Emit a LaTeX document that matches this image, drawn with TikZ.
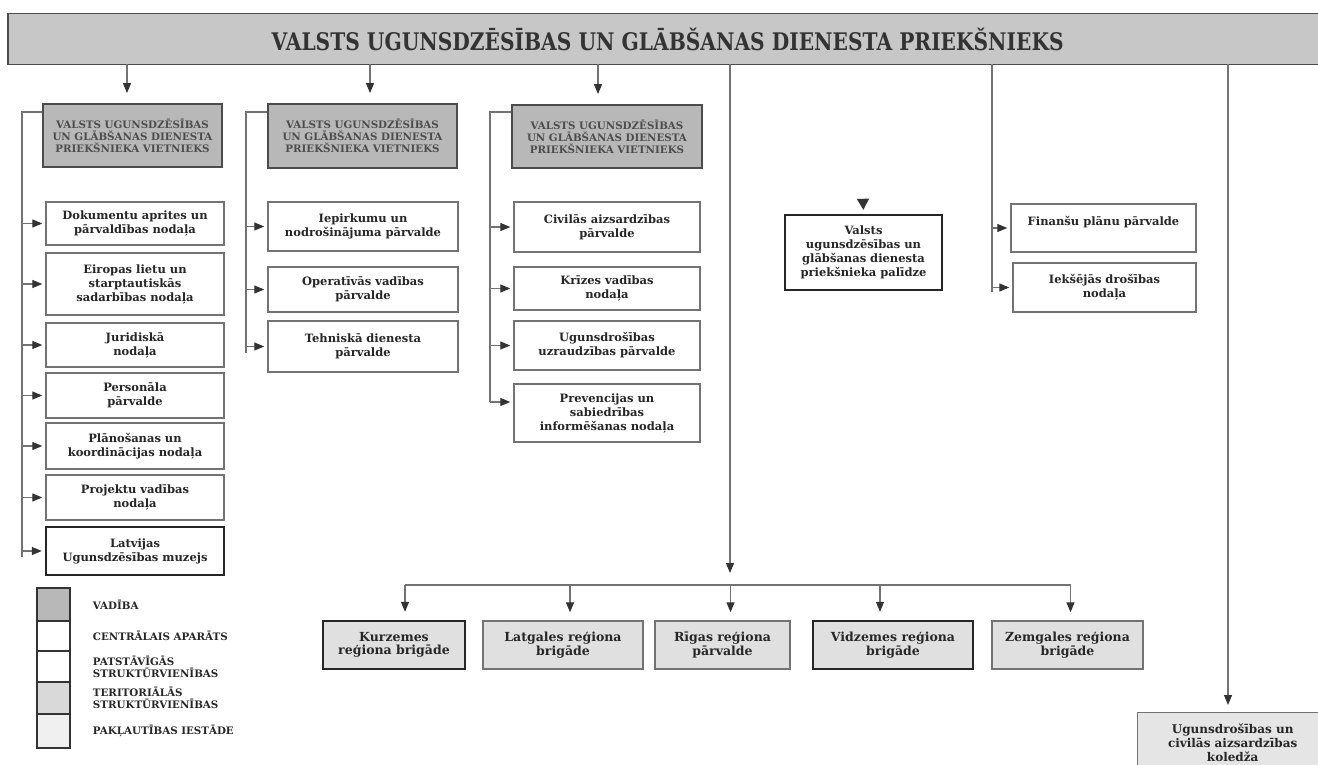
\documentclass[tikz,border=0pt]{standalone}
\usepackage{fontspec}
\setmainfont{DejaVu Serif}
\usetikzlibrary{arrows.meta,positioning}

\begin{document}
\begin{tikzpicture}[->,>={Triangle[length=10pt,width=8pt,color=black!80]},shorten >=3pt,
        x=1pt,y=-1pt,line width=1.2pt,color=black!55,
        unit/.style={rectangle,draw=black!55,line width=1.4pt,fill=white,align=center,
          font=\bfseries\fontsize{11.5}{14}\selectfont,text=black!85,inner sep=2pt},
        heavy/.style={unit,draw=black!85,line width=2.4pt},
        deputy/.style={unit,fill=black!28,draw=black!70,line width=1.8pt,
          font=\bfseries\fontsize{10.3}{12}\selectfont,text=black!70},
        brigade/.style={unit,fill=black!12,font=\bfseries\fontsize{12.5}{13.5}\selectfont},
        bus/.style={-,shorten >=0pt},
        key/.style={rectangle,draw=black!80,line width=2pt,minimum width=33pt},
        keytext/.style={anchor=west,align=left,font=\bfseries\fontsize{10.3}{12}\selectfont,text=black!85}]

  \useasboundingbox (0,0) rectangle (1318,765);

  % head of the service
  \node[draw=black!70,line width=1.5pt,fill=black!22,minimum width=1320pt,minimum height=51pt,
        anchor=north west,inner sep=0pt,text=black!80] (prieksn) at (7,13)
        {\scalebox{1}[1.2]{\bfseries\fontsize{20.2}{20}\selectfont VALSTS UGUNSDZĒSĪBAS UN GLĀBŠANAS DIENESTA PRIEKŠNIEKS}};

  % deputies
  \node[deputy,minimum width=179pt,minimum height=63pt] (viet1) at (132.5,135.5)
        {VALSTS UGUNSDZĒSĪBAS\\UN GLĀBŠANAS DIENESTA\\PRIEKŠNIEKA VIETNIEKS};
  \node[deputy,minimum width=189pt,minimum height=64pt] (viet2) at (362.5,136)
        {VALSTS UGUNSDZĒSĪBAS\\UN GLĀBŠANAS DIENESTA\\PRIEKŠNIEKA VIETNIEKS};
  \node[deputy,minimum width=190pt,minimum height=63pt] (viet3) at (607,136.5)
        {VALSTS UGUNSDZĒSĪBAS\\UN GLĀBŠANAS DIENESTA\\PRIEKŠNIEKA VIETNIEKS};

  % first deputy
  \node[unit,minimum width=178pt,minimum height=43pt] (dok) at (135,223.5) {Dokumentu aprites un\\pārvaldības nodaļa};
  \node[unit,minimum width=178pt,minimum height=62pt] (eir) at (135,284) {Eiropas lietu un\\starptautiskās\\sadarbības nodaļa};
  \node[unit,minimum width=178pt,minimum height=44pt] (jur) at (135,345) {Juridiskā\\nodaļa};
  \node[unit,minimum width=178pt,minimum height=45pt] (pers) at (135,395.5) {Personāla\\pārvalde};
  \node[unit,minimum width=178pt,minimum height=46pt] (plan) at (135,446) {Plānošanas un\\koordinācijas nodaļa};
  \node[unit,minimum width=178pt,minimum height=45pt] (proj) at (135,497.5) {Projektu vadības\\nodaļa};
  \node[heavy,minimum width=178pt,minimum height=48pt] (muz) at (135,551) {Latvijas\\Ugunsdzēsības muzejs};

  % second deputy
  \node[unit,minimum width=190pt,minimum height=49pt] (iep) at (363,226.5) {Iepirkumu un\\nodrošinājuma pārvalde};
  \node[unit,minimum width=190pt,minimum height=45pt] (oper) at (363,289.5) {Operatīvās vadības\\pārvalde};
  \node[unit,minimum width=190pt,minimum height=51pt] (tehn) at (363,346.5) {Tehniskā dienesta\\pārvalde};

  % third deputy
  \node[unit,minimum width=186pt,minimum height=50pt] (civ) at (607,227) {Civilās aizsardzības\\pārvalde};
  \node[unit,minimum width=186pt,minimum height=43pt] (kriz) at (607,288.5) {Krīzes vadības\\nodaļa};
  \node[unit,minimum width=186pt,minimum height=49pt] (uzr) at (607,345.5) {Ugunsdrošības\\uzraudzības pārvalde};
  \node[unit,minimum width=186pt,minimum height=58pt] (prev) at (607,413) {Prevencijas un\\sabiedrības\\informēšanas nodaļa};

  % assistant and right column
  \node[heavy,minimum width=157pt,minimum height=75pt] (pal) at (863.5,252.5)
        {Valsts\\ugunsdzēsības un\\glābšanas dienesta\\priekšnieka palīdze};
  \node[unit,minimum width=185pt,minimum height=48pt] (fin) at (1103.5,228) {Finanšu plānu pārvalde\\\mbox{}};
  \node[unit,minimum width=183pt,minimum height=49pt] (iek) at (1104.5,287.5) {Iekšējās drošības\\nodaļa};

  % regional brigades
  \node[brigade,heavy,fill=black!12,font=\bfseries\fontsize{12.5}{13.5}\selectfont,
        minimum width=142pt,minimum height=48pt] (kurz) at (394,645) {Kurzemes\\reģiona brigāde};
  \node[brigade,minimum width=160pt,minimum height=48pt] (latg) at (563,645) {Latgales reģiona\\brigāde};
  \node[brigade,minimum width=135pt,minimum height=48pt] (riga) at (722.5,645) {Rīgas reģiona\\pārvalde};
  \node[brigade,heavy,fill=black!12,font=\bfseries\fontsize{12.5}{13.5}\selectfont,
        minimum width=160pt,minimum height=48pt] (vidz) at (893,645) {Vidzemes reģiona\\brigāde};
  \node[brigade,minimum width=151pt,minimum height=48pt] (zemg) at (1067.5,645) {Zemgales reģiona\\brigāde};

  % college
  \node[brigade,fill=black!10,font=\bfseries\fontsize{12}{14}\selectfont,
        minimum width=190pt,minimum height=60pt,anchor=north west] (kol) at (1137,712)
        {Ugunsdrošības un\\civilās aizsardzības\\koledža};

  % legend
  \node[key,fill=black!28,minimum height=33pt] (k1) at (53.5,604.5) {};
  \node[key,fill=white,minimum height=30pt] (k2) at (53.5,636) {};
  \node[key,fill=white,minimum height=31pt] (k3) at (53.5,666.5) {};
  \node[key,fill=black!15,minimum height=32pt] (k4) at (53.5,698) {};
  \node[key,fill=black!6,minimum height=34pt] (k5) at (53.5,731) {};
  \node[keytext,right=18pt of k1] (l1) {VADĪBA};
  \node[keytext,right=18pt of k2] (l2) {CENTRĀLAIS APARĀTS};
  \node[keytext,right=18pt of k3] (l3) {PATSTĀVĪGĀS\\STRUKTŪRVIENĪBAS};
  \node[keytext,right=18pt of k4] (l4) {TERITORIĀLĀS\\STRUKTŪRVIENĪBAS};
  \node[keytext,right=18pt of k5] (l5) {PAKĻAUTĪBAS IESTĀDE};

  % stems from the head
  \coordinate (s1) at (127,64);
  \coordinate (s2) at (370,64);
  \coordinate (s3) at (598,64);
  \coordinate (s4) at (730,64);
  \coordinate (s5) at (992,64);
  \coordinate (s6) at (1228,64);
  \draw[shorten >=10pt] (s1) -- (s1 |- viet1.north);
  \draw[shorten >=10pt] (s2) -- (s2 |- viet2.north);
  \draw[shorten >=10pt] (s3) -- (s3 |- viet3.north);

  % buses of the deputies
  \coordinate (b1top) at (22,112);
  \coordinate (b1end) at (22,557);
  \coordinate (b2top) at (246,112);
  \coordinate (b2end) at (246,353);
  \coordinate (b3top) at (490,112);
  \coordinate (b3end) at (490,402);
  \draw[bus] (viet1.west |- b1top) -- (b1top) -- (b1end);
  \draw[bus] (viet2.west |- b2top) -- (b2top) -- (b2end);
  \draw[bus] (viet3.west |- b3top) -- (b3top) -- (b3end);
  \foreach \n in {dok,eir,jur,pers,plan,proj,muz}
    \draw (b1top |- \n.west) -- (\n.west);
  \foreach \n in {iep,oper,tehn}
    \draw (b2top |- \n.west) -- (\n.west);
  \foreach \n in {civ,kriz,uzr}
    \draw (b3top |- \n.west) -- (\n.west);
  \draw (b3end) -- (b3end -| prev.west);

  % assistant
  \coordinate (p0) at (863,199);
  \draw[>={Triangle[length=11pt,width=12pt,color=black!80]},shorten >=4pt] (p0) -- (pal.north);

  % right column
  \coordinate (b5end) at (992,292);
  \draw[bus] (s5) -- (b5end);
  \draw (s5 |- fin.west) -- (fin.west);
  \draw (s5 |- iek.west) -- (iek.west);

  % brigades
  \coordinate (hbus) at (730,585);
  \draw[shorten >=12pt] (s4) -- (hbus);
  \foreach \n/\dx [count=\i] in {kurz/11,latg/7,riga/8,vidz/-13,zemg/3} {
    \path ([xshift=\dx pt]\n.north) coordinate (t\i);
    \draw[shorten >=8pt] (t\i |- hbus) -- (t\i);
  }
  \draw[bus] (t1 |- hbus) -- (t5 |- hbus);

  % college
  \draw[shorten >=7pt] (s6) -- (s6 |- kol.north);

\end{tikzpicture}
\end{document}
